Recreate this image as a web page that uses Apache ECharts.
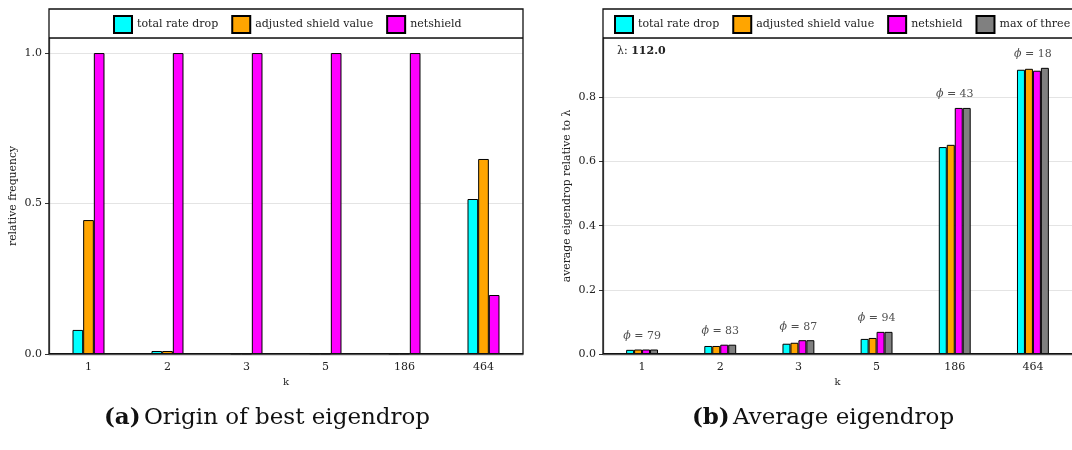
<!DOCTYPE html>
<html>
<head>
<meta charset="utf-8">
<script src="https://cdn.jsdelivr.net/npm/echarts@6/dist/echarts.min.js"></script>
<style>html,body{margin:0;padding:0;background:#fff;}#chart{width:1072px;height:450px;}</style>
</head>
<body>
<div id="chart"></div>
<script>
// ---- data ----
const categories = ['1', '2', '3', '5', '186', '464'];
// (a) Origin of best eigendrop — relative frequency
const leftTotalRateDrop   = [0.080, 0.010, 0.002, 0.002, 0.002, 0.515];
const leftAdjustedShield  = [0.445, 0.010, 0.002, 0.002, 0.002, 0.648];
const leftNetshield       = [1.000, 1.000, 1.000, 1.000, 1.000, 0.196];
// (b) Average eigendrop relative to lambda
const rightTotalRateDrop  = [0.013, 0.025, 0.032, 0.047, 0.645, 0.886];
const rightAdjustedShield = [0.014, 0.025, 0.035, 0.050, 0.652, 0.889];
const rightNetshield      = [0.014, 0.029, 0.043, 0.069, 0.767, 0.883];
const rightMaxOfThree     = [0.014, 0.029, 0.043, 0.069, 0.767, 0.892];
const phiValues = [79, 83, 87, 94, 43, 18];
const lambdaValue = '112.0';
const seriesNames = ['total rate drop', 'adjusted shield value', 'netshield', 'max of three'];
const colors = ['#00ffff', '#ffa500', '#ff00ff', '#808080'];

const FONT = 'DejaVu Serif';
const chart = echarts.init(document.getElementById('chart'), null, {renderer: 'canvas'});

const groupMax = categories.map((_, i) => Math.max(rightTotalRateDrop[i], rightAdjustedShield[i], rightNetshield[i], rightMaxOfThree[i]));

function bar(name, data, idx, gi, width) {
  return {
    type: 'bar', name: name, data: data,
    xAxisIndex: gi, yAxisIndex: gi,
    barWidth: width, barGap: '0%',
    itemStyle: {color: colors[idx], borderColor: '#000', borderWidth: 1},
    emphasis: {disabled: true},
    z: 3
  };
}

const L = {left: 49, top: 38, width: 474, bottom: 96};
const R = {left: 603, top: 38, width: 478, bottom: 96};

const axisLineStyle = {color: '#666', width: 1.3};
function xAxis(gi) {
  return {
    type: 'category', gridIndex: gi, data: categories,
    name: 'k', nameLocation: 'middle', nameGap: 23,
    nameTextStyle: {fontFamily: FONT, fontSize: 10, color: '#222'},
    axisLine: {lineStyle: axisLineStyle},
    axisTick: {alignWithLabel: true, length: 4, lineStyle: {color: '#333'}},
    axisLabel: {fontFamily: FONT, fontSize: 11, color: '#222', margin: 8},
    splitLine: {show: false}
  };
}
function yAxis(gi, max, interval, name) {
  return {
    type: 'value', gridIndex: gi, min: 0, max: max, interval: interval,
    name: name, nameLocation: 'middle', nameGap: 30,
    nameTextStyle: {fontFamily: FONT, fontSize: 10.8, color: '#222'},
    axisLine: {show: true, lineStyle: axisLineStyle},
    axisTick: {show: true, length: 4, lineStyle: {color: '#333'}},
    axisLabel: {fontFamily: FONT, fontSize: 11, color: '#222', margin: 7, showMaxLabel: false,
      formatter: v => v.toFixed(1)},
    splitLine: {show: true, lineStyle: {color: '#e4e4e4', width: 1}}
  };
}

const legendCommon = {
  icon: 'rect', itemWidth: 18, itemHeight: 17, itemGap: 13, top: 15, orient: 'horizontal',
  width: 900,
  textStyle: {fontFamily: FONT, fontSize: 11, color: '#222'},
  selectedMode: false, padding: 0
};

const option = {
  animation: false,
  backgroundColor: '#fff',
  grid: [
    {left: L.left, top: L.top, width: L.width, bottom: L.bottom, containLabel: false},
    {left: R.left, top: R.top, width: R.width, bottom: R.bottom, containLabel: false}
  ],
  legend: [
    Object.assign({}, legendCommon, {left: 113, data: seriesNames.slice(0, 3)}),
    Object.assign({}, legendCommon, {left: 614, data: seriesNames.slice(0, 4)})
  ],
  xAxis: [xAxis(0), xAxis(1)],
  yAxis: [yAxis(0, 1.05, 0.5, 'relative frequency'), yAxis(1, 0.985, 0.2, 'average eigendrop relative to λ')],
  series: [
    bar(seriesNames[0], leftTotalRateDrop, 0, 0, '13.5%'),
    bar(seriesNames[1], leftAdjustedShield, 1, 0, '13.5%'),
    bar(seriesNames[2], leftNetshield, 2, 0, '13.5%'),
    bar(seriesNames[0], rightTotalRateDrop, 0, 1, '10.2%'),
    bar(seriesNames[1], rightAdjustedShield, 1, 1, '10.2%'),
    bar(seriesNames[2], rightNetshield, 2, 1, '10.2%'),
    bar(seriesNames[3], rightMaxOfThree, 3, 1, '10.2%'),
    {
      type: 'scatter', name: 'phi', xAxisIndex: 1, yAxisIndex: 1,
      data: groupMax, symbolSize: 0, silent: true, z: 5,
      label: {
        show: true, position: 'top', distance: 8,
        formatter: p => '{i|ϕ} = ' + phiValues[p.dataIndex],
        fontFamily: FONT, fontSize: 11, color: '#222',
        rich: {i: {fontFamily: FONT, fontStyle: 'italic', fontSize: 11, color: '#222'}}
      }
    }
  ],
  graphic: [
    {type: 'rect', shape: {x: L.left, y: 9, width: L.width, height: 353.7 - 9}, style: {fill: null, stroke: '#111', lineWidth: 1.3}, z: 10, silent: true},
    {type: 'line', shape: {x1: L.left, y1: 38, x2: L.left + L.width, y2: 38}, style: {stroke: '#111', lineWidth: 1.3}, z: 10, silent: true},
    {type: 'rect', shape: {x: R.left, y: 9, width: R.width, height: 353.7 - 9}, style: {fill: null, stroke: '#111', lineWidth: 1.3}, z: 10, silent: true},
    {type: 'line', shape: {x1: R.left, y1: 38, x2: R.left + R.width, y2: 38}, style: {stroke: '#111', lineWidth: 1.3}, z: 10, silent: true},
    {type: 'text', x: 617, y: 51, z: 11, silent: true,
      style: {text: '{n|λ: }{b|' + lambdaValue + '}', verticalAlign: 'middle', fill: '#222',
        rich: {n: {fontFamily: FONT, fontSize: 11, fill: '#222'}, b: {fontFamily: FONT, fontSize: 11, fontWeight: 'bold', fill: '#222'}}}},
    {type: 'text', x: 267, y: 418, z: 11, silent: true,
      style: {text: '{b|(a)} {n|Origin of best eigendrop}', align: 'center', verticalAlign: 'middle',
        rich: {b: {fontFamily: FONT, fontSize: 23, fontWeight: 'bold', fill: '#111'}, n: {fontFamily: FONT, fontSize: 23, fill: '#111'}}}},
    {type: 'text', x: 823, y: 418, z: 11, silent: true,
      style: {text: '{b|(b)} {n|Average eigendrop}', align: 'center', verticalAlign: 'middle',
        rich: {b: {fontFamily: FONT, fontSize: 23, fontWeight: 'bold', fill: '#111'}, n: {fontFamily: FONT, fontSize: 23, fill: '#111'}}}}
  ]
};
chart.setOption(option);
</script>
</body>
</html>
